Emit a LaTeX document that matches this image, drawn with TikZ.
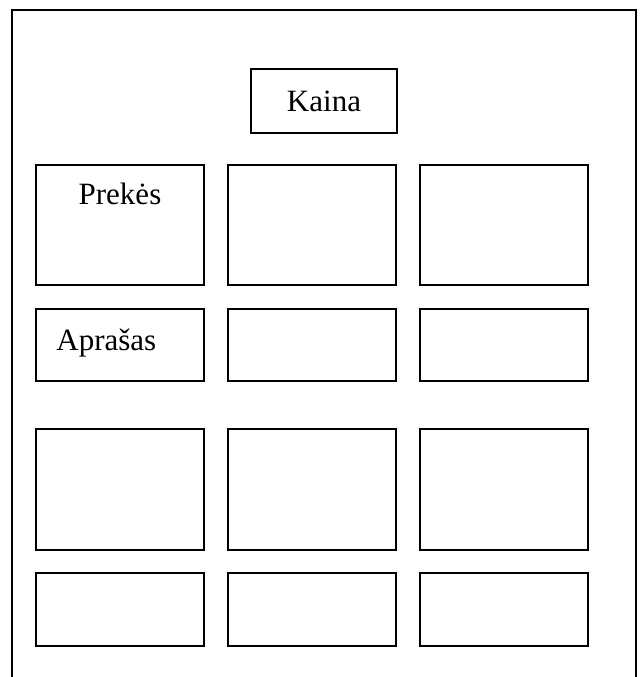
\documentclass[tikz,border=0pt]{standalone}
\usepackage{fontspec}
\setmainfont{Liberation Serif}
\usetikzlibrary{positioning}

\begin{document}
\begin{tikzpicture}[x=0.5pt,y=-0.5pt,
    pane/.style={draw,line width=1pt,inner sep=0pt,minimum width=84pt},
    caption/.style={inner sep=0pt,font=\fontsize{15.5}{18}\selectfont}]
  \useasboundingbox (0,0) rectangle (644,677);
  %% Page frame (open at the bottom)
  \draw[line width=1pt] (12,677) -- (12,10) -- (636,10) -- (636,677);
  %% Price box
  \node[pane,minimum width=73pt,minimum height=32pt,
        font=\fontsize{15.5}{18}\selectfont] (kaina) at (324,101) {Kaina};
  %% Grid of boxes
  \foreach \c/\x in {1/120,2/312,3/504}{
    \node[pane,minimum height=60pt]   (p\c) at (\x,225)   {};
    \node[pane,minimum height=36pt]   (a\c) at (\x,345)   {};
    \node[pane,minimum height=60.5pt] (q\c) at (\x,489.5) {};
    \node[pane,minimum height=36.5pt] (r\c) at (\x,609.5) {};
  }
  %% Texts in the first column
  \node[caption,below=9.5pt of p1.north] (prekes) {Prekės};
  \node[caption,anchor=west,right=10.5pt of a1.west,yshift=0.75pt] (aprasas) {Aprašas};
\end{tikzpicture}
\end{document}
